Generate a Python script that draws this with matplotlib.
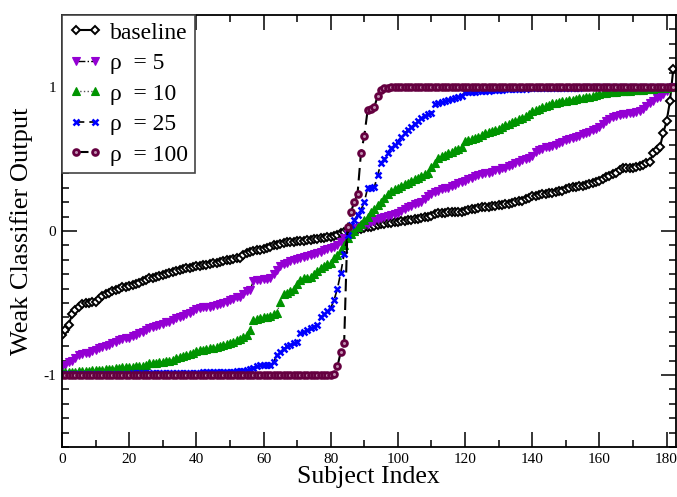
import numpy as np
import matplotlib
matplotlib.use("Agg")
import matplotlib.pyplot as plt
from matplotlib.ticker import MultipleLocator

plt.rcParams['font.family'] = ['Liberation Serif', 'DejaVu Serif']
plt.rcParams['axes.unicode_minus'] = False

# values, one per subject (sorted outputs)
baseline = [
    -0.72, -0.69, -0.65, -0.58, -0.55, -0.53, -0.51, -0.50, -0.50, -0.49,
    -0.49, -0.47, -0.45, -0.44, -0.43, -0.42, -0.41, -0.40, -0.39, -0.39,
    -0.38, -0.375, -0.37, -0.36, -0.35, -0.34, -0.33, -0.325, -0.32, -0.31,
    -0.305, -0.30, -0.29, -0.285, -0.28, -0.27, -0.265, -0.26, -0.257, -0.25,
    -0.245, -0.24, -0.237, -0.235, -0.23, -0.225, -0.22, -0.215, -0.21, -0.205,
    -0.20, -0.195, -0.19, -0.185, -0.17, -0.155, -0.146, -0.14, -0.135, -0.13,
    -0.125, -0.115, -0.11, -0.10, -0.095, -0.09, -0.085, -0.08, -0.076, -0.074,
    -0.072, -0.07, -0.068, -0.065, -0.063, -0.058, -0.054, -0.05, -0.046, -0.043,
    -0.04, -0.035, -0.025, -0.015, -0.005, 0.0, 0.007, 0.01, 0.013, 0.017,
    0.02, 0.025, 0.03, 0.035, 0.04, 0.045, 0.05, 0.055, 0.058, 0.062,
    0.065, 0.068, 0.07, 0.073, 0.076, 0.08, 0.085, 0.09, 0.094, 0.097,
    0.105, 0.115, 0.125, 0.127, 0.128, 0.129, 0.13, 0.131, 0.132, 0.133,
    0.14, 0.145, 0.15, 0.155, 0.16, 0.163, 0.165, 0.167, 0.17, 0.174,
    0.178, 0.183, 0.188, 0.19, 0.195, 0.2, 0.205, 0.21, 0.22, 0.23,
    0.24, 0.245, 0.25, 0.255, 0.26, 0.263, 0.266, 0.27, 0.275, 0.28,
    0.29, 0.30, 0.305, 0.308, 0.31, 0.312, 0.318, 0.325, 0.333, 0.34,
    0.35, 0.36, 0.375, 0.385, 0.395, 0.40, 0.42, 0.435, 0.44, 0.44,
    0.44, 0.445, 0.45, 0.46, 0.47, 0.48, 0.54, 0.56, 0.58, 0.68,
    0.76, 0.90, 1.125,
]

rho5 = [
    -0.94, -0.93, -0.91, -0.90, -0.88, -0.86, -0.855, -0.85, -0.845, -0.835,
    -0.825, -0.815, -0.805, -0.80, -0.79, -0.78, -0.77, -0.76, -0.75, -0.745,
    -0.74, -0.73, -0.72, -0.71, -0.70, -0.685, -0.675, -0.665, -0.66, -0.655,
    -0.645, -0.635, -0.63, -0.615, -0.605, -0.597, -0.59, -0.58, -0.57, -0.555,
    -0.545, -0.535, -0.53, -0.528, -0.525, -0.52, -0.512, -0.507, -0.50, -0.49,
    -0.48, -0.47, -0.462, -0.458, -0.44, -0.42, -0.41, -0.345, -0.34, -0.338,
    -0.335, -0.332, -0.33, -0.30, -0.27, -0.24, -0.23, -0.22, -0.21, -0.20,
    -0.195, -0.19, -0.182, -0.175, -0.167, -0.16, -0.153, -0.146, -0.135, -0.125,
    -0.118, -0.11, -0.095, -0.076, -0.05, -0.02, 0.0, 0.012, 0.022, 0.032,
    0.04, 0.05, 0.06, 0.07, 0.08, 0.09, 0.10, 0.105, 0.11, 0.12,
    0.125, 0.14, 0.155, 0.167, 0.175, 0.185, 0.195, 0.20, 0.22, 0.24,
    0.26, 0.27, 0.28, 0.29, 0.295, 0.30, 0.31, 0.32, 0.33, 0.34,
    0.35, 0.36, 0.37, 0.38, 0.39, 0.395, 0.40, 0.405, 0.41, 0.42,
    0.425, 0.435, 0.44, 0.45, 0.46, 0.47, 0.48, 0.49, 0.50, 0.51,
    0.52, 0.545, 0.56, 0.57, 0.58, 0.585, 0.59, 0.60, 0.61, 0.62,
    0.63, 0.64, 0.645, 0.65, 0.66, 0.67, 0.68, 0.69, 0.70, 0.71,
    0.72, 0.74, 0.76, 0.78, 0.79, 0.80, 0.805, 0.81, 0.815, 0.82,
    0.82, 0.825, 0.83, 0.85, 0.87, 0.89, 0.90, 0.92, 0.93, 0.95,
    0.97, 0.99, 1.0,
]

rho10 = [
    -0.98, -0.98, -0.98, -0.978, -0.976, -0.975, -0.974, -0.972, -0.97, -0.968,
    -0.966, -0.965, -0.962, -0.96, -0.958, -0.955, -0.953, -0.95, -0.948, -0.946,
    -0.944, -0.942, -0.94, -0.938, -0.935, -0.93, -0.92, -0.917, -0.914, -0.91,
    -0.907, -0.904, -0.90, -0.893, -0.885, -0.875, -0.87, -0.862, -0.855, -0.845,
    -0.835, -0.828, -0.824, -0.82, -0.815, -0.81, -0.805, -0.80, -0.795, -0.788,
    -0.78, -0.77, -0.76, -0.75, -0.735, -0.72, -0.69, -0.62, -0.61, -0.605,
    -0.60, -0.598, -0.59, -0.58, -0.57, -0.49, -0.44, -0.43, -0.42, -0.40,
    -0.37, -0.34, -0.33, -0.325, -0.32, -0.30, -0.28, -0.26, -0.245, -0.23,
    -0.22, -0.19, -0.167, -0.13, -0.10, -0.05, -0.02, 0.0, 0.03, 0.05,
    0.076, 0.10, 0.13, 0.15, 0.18, 0.20, 0.23, 0.26, 0.275, 0.29,
    0.30, 0.31, 0.325, 0.335, 0.35, 0.36, 0.37, 0.385, 0.395, 0.405,
    0.445, 0.475, 0.51, 0.52, 0.53, 0.54, 0.55, 0.56, 0.57, 0.58,
    0.625, 0.63, 0.64, 0.645, 0.65, 0.665, 0.68, 0.69, 0.695, 0.70,
    0.71, 0.725, 0.735, 0.745, 0.755, 0.765, 0.775, 0.785, 0.80, 0.815,
    0.83, 0.84, 0.85, 0.86, 0.865, 0.875, 0.885, 0.89, 0.895, 0.90,
    0.903, 0.906, 0.91, 0.915, 0.92, 0.924, 0.928, 0.932, 0.94, 0.945,
    0.95, 0.955, 0.96, 0.962, 0.965, 0.967, 0.969, 0.97, 0.972, 0.974,
    0.976, 0.978, 0.98, 0.982, 0.984, 0.986, 0.988, 0.99, 0.992, 0.994,
    0.996, 0.998, 1.0,
]

rho25 = [
    -0.995, -0.995, -0.995, -0.995, -0.994, -0.994, -0.994, -0.993, -0.993, -0.993,
    -0.992, -0.992, -0.992, -0.991, -0.991, -0.991, -0.99, -0.99, -0.99, -0.99,
    -0.99, -0.989, -0.989, -0.989, -0.988, -0.988, -0.988, -0.987, -0.987, -0.987,
    -0.986, -0.986, -0.986, -0.985, -0.985, -0.985, -0.984, -0.984, -0.984, -0.983,
    -0.983, -0.983, -0.982, -0.982, -0.982, -0.981, -0.981, -0.98, -0.98, -0.98,
    -0.978, -0.976, -0.975, -0.972, -0.97, -0.965, -0.96, -0.95, -0.935, -0.93,
    -0.93, -0.93, -0.93, -0.91, -0.86, -0.84, -0.82, -0.80, -0.79, -0.78,
    -0.77, -0.71, -0.70, -0.69, -0.675, -0.665, -0.65, -0.60, -0.58, -0.555,
    -0.535, -0.48, -0.40, -0.29, -0.16, -0.03, 0.04, 0.076, 0.11, 0.146,
    0.20, 0.30, 0.30, 0.305, 0.39, 0.47, 0.50, 0.54, 0.575, 0.60,
    0.62, 0.65, 0.68, 0.70, 0.72, 0.74, 0.76, 0.785, 0.80, 0.81,
    0.82, 0.88, 0.89, 0.895, 0.90, 0.91, 0.915, 0.92, 0.93, 0.94,
    0.965, 0.966, 0.967, 0.968, 0.969, 0.97, 0.972, 0.975, 0.978, 0.98,
    0.981, 0.982, 0.983, 0.984, 0.985, 0.986, 0.987, 0.988, 0.989, 0.99,
    0.99, 0.991, 0.991, 0.992, 0.992, 0.993, 0.993, 0.994, 0.994, 0.995,
    0.995, 0.995, 0.996, 0.996, 0.996, 0.997, 0.997, 0.997, 0.997, 0.998,
    0.998, 0.998, 0.998, 0.998, 0.999, 0.999, 0.999, 0.999, 0.999, 0.999,
    0.999, 0.999, 1.0, 1.0, 1.0, 1.0, 1.0, 1.0, 1.0, 1.0,
    1.0, 1.0, 1.0,
]

rho100 = [
    -1.0, -1.0, -1.0, -1.0, -1.0, -1.0, -1.0, -1.0, -1.0, -1.0,
    -1.0, -1.0, -1.0, -1.0, -1.0, -1.0, -1.0, -1.0, -1.0, -1.0,
    -1.0, -1.0, -1.0, -1.0, -1.0, -1.0, -1.0, -1.0, -1.0, -1.0,
    -1.0, -1.0, -1.0, -1.0, -1.0, -1.0, -1.0, -1.0, -1.0, -1.0,
    -1.0, -1.0, -1.0, -1.0, -1.0, -1.0, -1.0, -1.0, -1.0, -1.0,
    -1.0, -1.0, -1.0, -1.0, -1.0, -1.0, -1.0, -1.0, -1.0, -1.0,
    -1.0, -1.0, -1.0, -1.0, -1.0, -1.0, -1.0, -1.0, -1.0, -1.0,
    -1.0, -1.0, -1.0, -1.0, -1.0, -1.0, -1.0, -1.0, -1.0, -0.998,
    -0.997, -0.99, -0.94, -0.84, -0.78, 0.03, 0.13, 0.20, 0.26, 0.54,
    0.66, 0.84, 0.85, 0.86, 0.94, 0.98, 0.99, 0.995, 0.997, 0.998,
    0.998, 0.999, 0.999, 0.999, 1.0, 1.0, 1.0, 1.0, 1.0, 1.0,
    1.0, 1.0, 1.0, 1.0, 1.0, 1.0, 1.0, 1.0, 1.0, 1.0,
    1.0, 1.0, 1.0, 1.0, 1.0, 1.0, 1.0, 1.0, 1.0, 1.0,
    1.0, 1.0, 1.0, 1.0, 1.0, 1.0, 1.0, 1.0, 1.0, 1.0,
    1.0, 1.0, 1.0, 1.0, 1.0, 1.0, 1.0, 1.0, 1.0, 1.0,
    1.0, 1.0, 1.0, 1.0, 1.0, 1.0, 1.0, 1.0, 1.0, 1.0,
    1.0, 1.0, 1.0, 1.0, 1.0, 1.0, 1.0, 1.0, 1.0, 1.0,
    1.0, 1.0, 1.0, 1.0, 1.0, 1.0, 1.0, 1.0, 1.0, 1.0,
    1.0, 1.0, 1.0,
]

labels = ["baseline", "\u03c1  = 5", "\u03c1  = 10", "\u03c1  = 25", "\u03c1  = 100"]

idx = np.arange(len(baseline))

fig = plt.figure(figsize=(6.77, 4.97), dpi=100)
ax = fig.add_axes([0.0916, 0.1006, 0.9064, 0.8694])

ax.plot(idx, baseline, color="black", lw=1.5, ls="-",
        marker="D", ms=3.8, mfc="white", mec="black", mew=1.4, label=labels[0])
ax.plot(idx, rho5, color="black", lw=1.0, ls="-.",
        marker="v", ms=6, mfc="#9400d3", mec="#9400d3", mew=0.8, label=labels[1])
ax.plot(idx, rho10, color="#555555", lw=1.0, ls=":",
        marker="^", ms=6, mfc="#009400", mec="#009400", mew=0.8, label=labels[2])
ax.plot(idx, rho25, color="black", lw=1.2, ls="--", dashes=(5, 3),
        marker="x", ms=5, mec="#0000ff", mew=1.8, label=labels[3])
ax.plot(idx, rho100, color="black", lw=1.5, ls="--", dashes=(6, 3),
        marker="o", ms=4.2, mfc="#c090b0", mec="#650040", mew=2.0, label=labels[4])

ax.set_xlim(0, 182.7)
ax.set_ylim(-1.5, 1.5)
ax.xaxis.set_major_locator(MultipleLocator(20))
ax.xaxis.set_minor_locator(MultipleLocator(10))
ax.yaxis.set_major_locator(MultipleLocator(1))
ax.yaxis.set_minor_locator(MultipleLocator(0.1))
ax.tick_params(which="both", direction="in", top=True, right=True, labelsize=11, width=1.1)
ax.tick_params(which="major", length=11, pad=4)
ax.tick_params(which="minor", length=5)
for s in ax.spines.values():
    s.set_linewidth(1.3)

ax.set_xlabel("Subject Index", fontsize=18.5, labelpad=0)
ax.set_ylabel("Weak Classifier Output", fontsize=19, labelpad=8)

leg = ax.legend(loc="upper left", borderaxespad=0, fontsize=17, numpoints=2,
                handlelength=1.4, handletextpad=0.35, borderpad=0.3,
                labelspacing=0.38, fancybox=False, framealpha=1)
leg.get_frame().set_edgecolor("#444444")
leg.get_frame().set_linewidth(1.2)

fig.savefig("out.png", dpi=100)
